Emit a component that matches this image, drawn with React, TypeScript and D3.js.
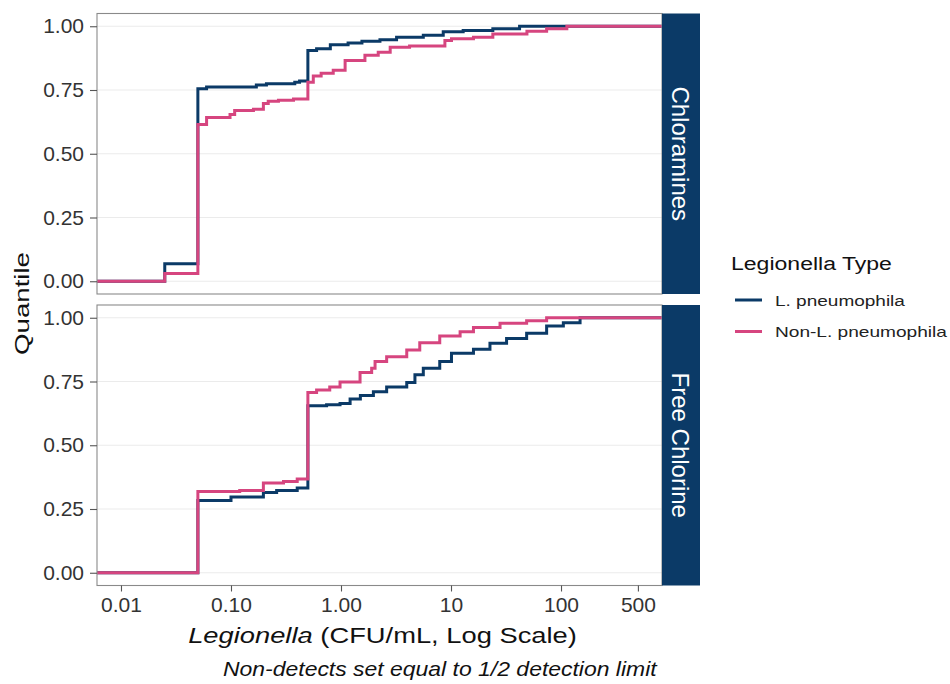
import React, { useEffect, useRef } from "react";
import * as d3 from "d3";

// ECDF step points (x in CFU/mL, quantile after the step)
const chloraLpX = [0.025, 0.05, 0.06, 0.17, 0.21, 0.38, 0.42, 0.5, 0.6, 0.8, 1.16, 1.55, 2.26, 3.2, 5.6, 8.5, 12.9, 24, 42];
const chloraLpQ = [0.069, 0.755, 0.762, 0.77, 0.775, 0.78, 0.785, 0.905, 0.912, 0.927, 0.934, 0.941, 0.947, 0.957, 0.965, 0.978, 0.983, 0.99, 1.0];

const chloraNonX = [0.025, 0.05, 0.06, 0.098, 0.108, 0.16, 0.197, 0.218, 0.27, 0.37, 0.5, 0.56, 0.66, 0.85, 1.09, 1.65, 2.18, 2.8, 4.2, 8.8, 10.1, 16, 24, 49, 74, 113];
const chloraNonQ = [0.03, 0.615, 0.642, 0.654, 0.67, 0.675, 0.697, 0.706, 0.71, 0.715, 0.78, 0.805, 0.816, 0.827, 0.866, 0.886, 0.898, 0.918, 0.923, 0.944, 0.951, 0.957, 0.97, 0.98, 0.99, 1.0];

const freeLpX = [0.05, 0.1, 0.197, 0.26, 0.4, 0.5, 0.74, 0.98, 1.21, 1.5, 1.97, 2.6, 3.96, 4.7, 5.6, 7.9, 10.1, 16, 22.6, 32, 48.7, 74, 105, 149];
const freeLpQ = [0.283, 0.297, 0.315, 0.323, 0.332, 0.655, 0.659, 0.664, 0.681, 0.695, 0.71, 0.728, 0.746, 0.776, 0.802, 0.828, 0.861, 0.876, 0.9, 0.919, 0.939, 0.968, 0.98, 1.0];

const freeNonX = [0.05, 0.12, 0.197, 0.3, 0.4, 0.5, 0.6, 0.79, 0.98, 1.49, 1.9, 2.04, 2.6, 3.96, 5.2, 7.9, 12.1, 16, 27.9, 48.7, 74];
const freeNonQ = [0.319, 0.323, 0.352, 0.358, 0.368, 0.707, 0.717, 0.728, 0.748, 0.785, 0.802, 0.828, 0.847, 0.874, 0.902, 0.928, 0.945, 0.962, 0.978, 0.988, 1.0];

const panels = ["Chloramines", "Free Chlorine"];
const seriesNames = ["L. pneumophila", "Non-L. pneumophila"];
const colors = ["#0b3a67", "#d6457f"];

const xTicks = [0.01, 0.1, 1, 10, 100, 500];
const xTickLabels = ["0.01", "0.10", "1.00", "10", "100", "500"];
const yTicks = [0, 0.25, 0.5, 0.75, 1];

const FONT = "'Liberation Sans', Arial, sans-serif";

// the reference text is set wider than Arial; stretch a text to a measured width
function fit(sel: any, x: number, y: number, width: number, rot = 0) {
  const node = sel.node() as SVGTextElement;
  const w = node.getComputedTextLength();
  const s = w > 0 ? width / w : 1;
  sel.attr("transform", `translate(${x},${y}) rotate(${rot}) scale(${s},1)`);
}

export default function App() {
  const ref = useRef<SVGSVGElement>(null);

  useEffect(() => {
    const svg = d3.select(ref.current);
    svg.selectAll("*").remove();

    const left = 97;
    const right = 662;
    const stripW = 38;
    const panelTops = [13.5, 305];
    const panelH = 280.5;

    const x = d3
      .scaleLog()
      .domain([Math.pow(10, -2.218), Math.pow(10, 2.918)])
      .range([left, right]);

    const data = [
      [
        chloraLpX.map((v, i) => [v, chloraLpQ[i]]),
        chloraNonX.map((v, i) => [v, chloraNonQ[i]]),
      ],
      [
        freeLpX.map((v, i) => [v, freeLpQ[i]]),
        freeNonX.map((v, i) => [v, freeNonQ[i]]),
      ],
    ];

    panels.forEach((name, p) => {
      const top = panelTops[p];
      const y = d3.scaleLinear().domain([-0.05, 1.05]).range([top + panelH, top]);
      const g = svg.append("g");

      g.append("rect")
        .attr("x", left)
        .attr("y", top)
        .attr("width", right - left)
        .attr("height", panelH)
        .attr("fill", "#fff");

      g.selectAll(".grid")
        .data(yTicks)
        .enter()
        .append("line")
        .attr("x1", left)
        .attr("x2", right)
        .attr("y1", (d) => y(d))
        .attr("y2", (d) => y(d))
        .attr("stroke", "#ebebeb")
        .attr("stroke-width", 1.2);

      const [xmin, xmax] = x.domain();
      const line = d3
        .line<number[]>()
        .x((d) => x(d[0]))
        .y((d) => y(d[1]))
        .curve(d3.curveStepAfter);

      data[p].forEach((pts, s) => {
        const full = [[xmin, 0], ...pts, [xmax, 1]];
        g.append("path")
          .attr("d", line(full))
          .attr("fill", "none")
          .attr("stroke", colors[s])
          .attr("stroke-width", 3);
      });

      g.append("rect")
        .attr("x", left)
        .attr("y", top)
        .attr("width", right - left)
        .attr("height", panelH)
        .attr("fill", "none")
        .attr("stroke", "#8a8a8a")
        .attr("stroke-width", 1.1);

      // y axis
      const yAxis = g
        .append("g")
        .attr("transform", `translate(${left},0)`)
        .call(
          d3
            .axisLeft(y)
            .tickValues(yTicks)
            .tickFormat(d3.format(".2f"))
            .tickSize(7)
            .tickPadding(6)
        );
      yAxis.select(".domain").remove();
      yAxis.selectAll("line").attr("stroke", "#555").attr("stroke-width", 1.1);
      yAxis
        .selectAll("text")
        .attr("fill", "#333")
        .style("font-family", FONT)
        .style("font-size", "21px");

      // strip
      g.append("rect")
        .attr("x", right)
        .attr("y", top)
        .attr("width", stripW)
        .attr("height", panelH)
        .attr("fill", "#0b3a67");
      g.append("text")
        .attr("transform", `translate(${right + 10},${top + panelH / 2}) rotate(90)`)
        .attr("text-anchor", "middle")
        .attr("fill", "#fff")
        .style("font-family", FONT)
        .style("font-size", "24px")
        .text(name);
    });

    // x axis
    const bottom = panelTops[1] + panelH;
    const xAxis = svg
      .append("g")
      .attr("transform", `translate(0,${bottom})`)
      .call(
        d3
          .axisBottom(x)
          .tickValues(xTicks)
          .tickFormat((d, i) => xTickLabels[i])
          .tickSize(6)
          .tickPadding(6)
      );
    xAxis.select(".domain").remove();
    xAxis.selectAll("line").attr("stroke", "#555").attr("stroke-width", 1.1);
    xAxis
      .selectAll("text")
      .attr("fill", "#333")
      .style("font-family", FONT)
      .style("font-size", "21px");

    const xt = svg
      .append("text")
      .attr("text-anchor", "middle")
      .attr("fill", "#111")
      .style("font-family", FONT)
      .style("font-size", "22px");
    xt.append("tspan").attr("font-style", "italic").text("Legionella");
    xt.append("tspan").text(" (CFU/mL, Log Scale)");
    fit(xt, 382.5, 643, 389);

    const yt = svg
      .append("text")
      .attr("text-anchor", "middle")
      .attr("fill", "#111")
      .style("font-family", FONT)
      .style("font-size", "21px")
      .text("Quantile");
    fit(yt, 29, 303.5, 103, -90);

    const cap = svg
      .append("text")
      .attr("text-anchor", "start")
      .attr("font-style", "italic")
      .attr("fill", "#111")
      .style("font-family", FONT)
      .style("font-size", "20px")
      .text("Non-detects set equal to 1/2 detection limit");
    fit(cap, 223, 676, 434);

    // legend
    const lt = svg
      .append("text")
      .attr("fill", "#111")
      .style("font-family", FONT)
      .style("font-size", "19px")
      .text("Legionella Type");
    fit(lt, 731, 270, 161);

    const labelWidths = [130, 172];
    seriesNames.forEach((s, i) => {
      const yy = 300 + i * 31.5;
      svg
        .append("line")
        .attr("x1", 735)
        .attr("x2", 762)
        .attr("y1", yy)
        .attr("y2", yy)
        .attr("stroke", colors[i])
        .attr("stroke-width", 3);
      const t = svg
        .append("text")
        .attr("fill", "#222")
        .style("font-family", FONT)
        .style("font-size", "15px")
        .text(s);
      fit(t, 775, yy + 5.5, labelWidths[i]);
    });
  }, []);

  return (
    <svg
      ref={ref}
      width={950}
      height={684}
      style={{ position: "absolute", left: 0, top: 0, background: "#fff" }}
    />
  );
}
